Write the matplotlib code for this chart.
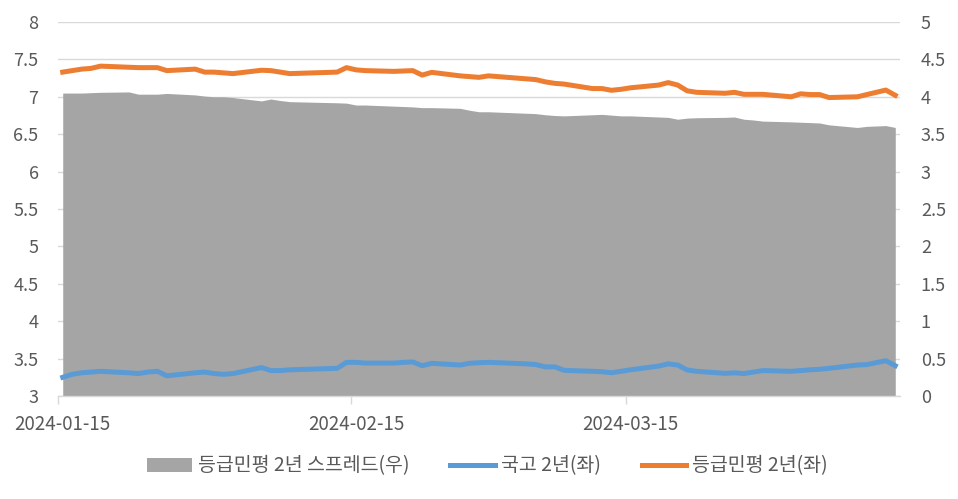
import matplotlib
matplotlib.use('Agg')
import matplotlib.pyplot as plt
import pandas as pd

plt.rcParams['font.family'] = ['Noto Sans CJK KR', 'DejaVu Sans']

# 영업일 (설 연휴, 삼일절, 총선일 제외)
dates = [
    '2024-01-15', '2024-01-16', '2024-01-17', '2024-01-18', '2024-01-19',
    '2024-01-22', '2024-01-23', '2024-01-24', '2024-01-25', '2024-01-26',
    '2024-01-29', '2024-01-30', '2024-01-31', '2024-02-01', '2024-02-02',
    '2024-02-05', '2024-02-06', '2024-02-07', '2024-02-08',
    '2024-02-13', '2024-02-14', '2024-02-15', '2024-02-16',
    '2024-02-19', '2024-02-20', '2024-02-21', '2024-02-22', '2024-02-23',
    '2024-02-26', '2024-02-27', '2024-02-28', '2024-02-29',
    '2024-03-04', '2024-03-05', '2024-03-06', '2024-03-07', '2024-03-08',
    '2024-03-11', '2024-03-12', '2024-03-13', '2024-03-14', '2024-03-15',
    '2024-03-18', '2024-03-19', '2024-03-20', '2024-03-21', '2024-03-22',
    '2024-03-25', '2024-03-26', '2024-03-27', '2024-03-28', '2024-03-29',
    '2024-04-01', '2024-04-02', '2024-04-03', '2024-04-04', '2024-04-05',
    '2024-04-08', '2024-04-09',
    '2024-04-11', '2024-04-12',
]

# 국고 2년 (좌)
ktb_2y = [
    3.25, 3.29, 3.31, 3.32, 3.33,
    3.31, 3.30, 3.32, 3.33, 3.27,
    3.31, 3.32, 3.30, 3.29, 3.30,
    3.38, 3.34, 3.34, 3.35,
    3.37, 3.45, 3.45, 3.44,
    3.44, 3.45, 3.455, 3.405, 3.437,
    3.414, 3.437, 3.445, 3.45,
    3.43, 3.42, 3.39, 3.39, 3.343,
    3.33, 3.325, 3.311, 3.33, 3.35,
    3.40, 3.43, 3.414, 3.348, 3.33,
    3.303, 3.31, 3.30, 3.32, 3.34,
    3.33, 3.34, 3.35, 3.357, 3.37,
    3.414, 3.42,
    3.472, 3.405,
]

# 등급민평 2년 (좌)
corp_2y = [
    7.33, 7.35, 7.37, 7.38, 7.41,
    7.395, 7.39, 7.39, 7.39, 7.35,
    7.37, 7.33, 7.33, 7.32, 7.31,
    7.355, 7.35, 7.33, 7.31,
    7.33, 7.39, 7.36, 7.35,
    7.34, 7.345, 7.35, 7.29, 7.327,
    7.28, 7.27, 7.26, 7.28,
    7.24, 7.23, 7.20, 7.18, 7.17,
    7.11, 7.11, 7.087, 7.10, 7.12,
    7.157, 7.19, 7.157, 7.08, 7.06,
    7.047, 7.06, 7.033, 7.033, 7.033,
    7.00, 7.04, 7.03, 7.03, 6.99,
    7.00, 7.03,
    7.09, 7.02,
]

# 등급민평 2년 스프레드 (우)
spread = [
    4.05, 4.05, 4.05, 4.055, 4.06,
    4.065, 4.035, 4.035, 4.035, 4.045,
    4.025, 4.01, 4.00, 4.00, 3.99,
    3.945, 3.97, 3.95, 3.935,
    3.92, 3.915, 3.89, 3.89,
    3.875, 3.87, 3.865, 3.855, 3.855,
    3.846, 3.82, 3.80, 3.80,
    3.78, 3.775, 3.76, 3.75, 3.745,
    3.76, 3.765, 3.755, 3.745, 3.745,
    3.73, 3.725, 3.70, 3.715, 3.72,
    3.725, 3.73, 3.70, 3.69, 3.675,
    3.665, 3.66, 3.655, 3.65, 3.625,
    3.59, 3.605,
    3.615, 3.59,
]

tick_dates = ['2024-01-15', '2024-02-15', '2024-03-15']

x = pd.to_datetime(dates)
half_day = pd.Timedelta(hours=12)
text_color = '#595959'
grid_color = '#d9d9d9'

fig = plt.figure(figsize=(9.58, 4.99), dpi=100)
ax = fig.add_axes([58 / 958, 1 - 396 / 499, (900 - 58) / 958, (396 - 22) / 499])

# 스프레드 면적 (우축)
area = ax.fill_between(x, 0, spread, color='#a5a5a5', linewidth=0,
                       label='등급민평 2년 스프레드(우)')
ax.set_ylim(0, 5)
ax.set_yticks([i * 0.5 for i in range(11)])
ax.set_yticklabels(['0', '0.5', '1', '1.5', '2', '2.5', '3', '3.5', '4', '4.5', '5'])
ax.grid(axis='y', color=grid_color, linewidth=1)
ax.set_axisbelow(True)

ax2 = ax.twinx()
l1, = ax2.plot(x, ktb_2y, color='#5b9bd5', linewidth=3.6, label='국고 2년(좌)')
l2, = ax2.plot(x, corp_2y, color='#ed7d31', linewidth=3.6, label='등급민평 2년(좌)')
ax2.set_ylim(3, 8)
ax2.set_yticks([3 + i * 0.5 for i in range(11)])
ax2.set_yticklabels(['3', '3.5', '4', '4.5', '5', '5.5', '6', '6.5', '7', '7.5', '8'])

# twinx가 원래 축을 왼쪽으로 돌려놓으므로 여기서 다시 지정
ax.yaxis.tick_right()
ax2.yaxis.tick_left()

ax.set_xlim(x[0] - half_day, x[-1] + half_day)
td = pd.to_datetime(tick_dates)
ax.set_xticks(list(td - half_day))
ax.set_xticklabels(['', '', ''])
ax.set_xticks(list(td), labels=tick_dates, minor=True)

ax.tick_params(axis='x', which='major', length=6, width=1, color=grid_color, direction='out')
ax.tick_params(axis='x', which='minor', length=0, pad=13, labelsize=13.5, labelcolor=text_color)
ax.tick_params(axis='y', length=0, pad=15, labelsize=13, labelcolor=text_color)
ax2.tick_params(axis='y', length=0, pad=14, labelsize=13, labelcolor=text_color)

for a in (ax, ax2):
    for side in ('top', 'left', 'right'):
        a.spines[side].set_visible(False)
    a.spines['bottom'].set_color(grid_color)
    a.spines['bottom'].set_linewidth(1)
ax2.spines['bottom'].set_visible(False)

fig.legend([area, l1, l2], [area.get_label(), l1.get_label(), l2.get_label()],
           loc='center', bbox_to_anchor=(0.509, 1 - 466 / 499), ncol=3, frameon=False,
           fontsize=14, labelcolor=text_color, handlelength=2.3, handleheight=0.7,
           handletextpad=0.3, columnspacing=2.1)

fig.savefig('out.png', dpi=100)
